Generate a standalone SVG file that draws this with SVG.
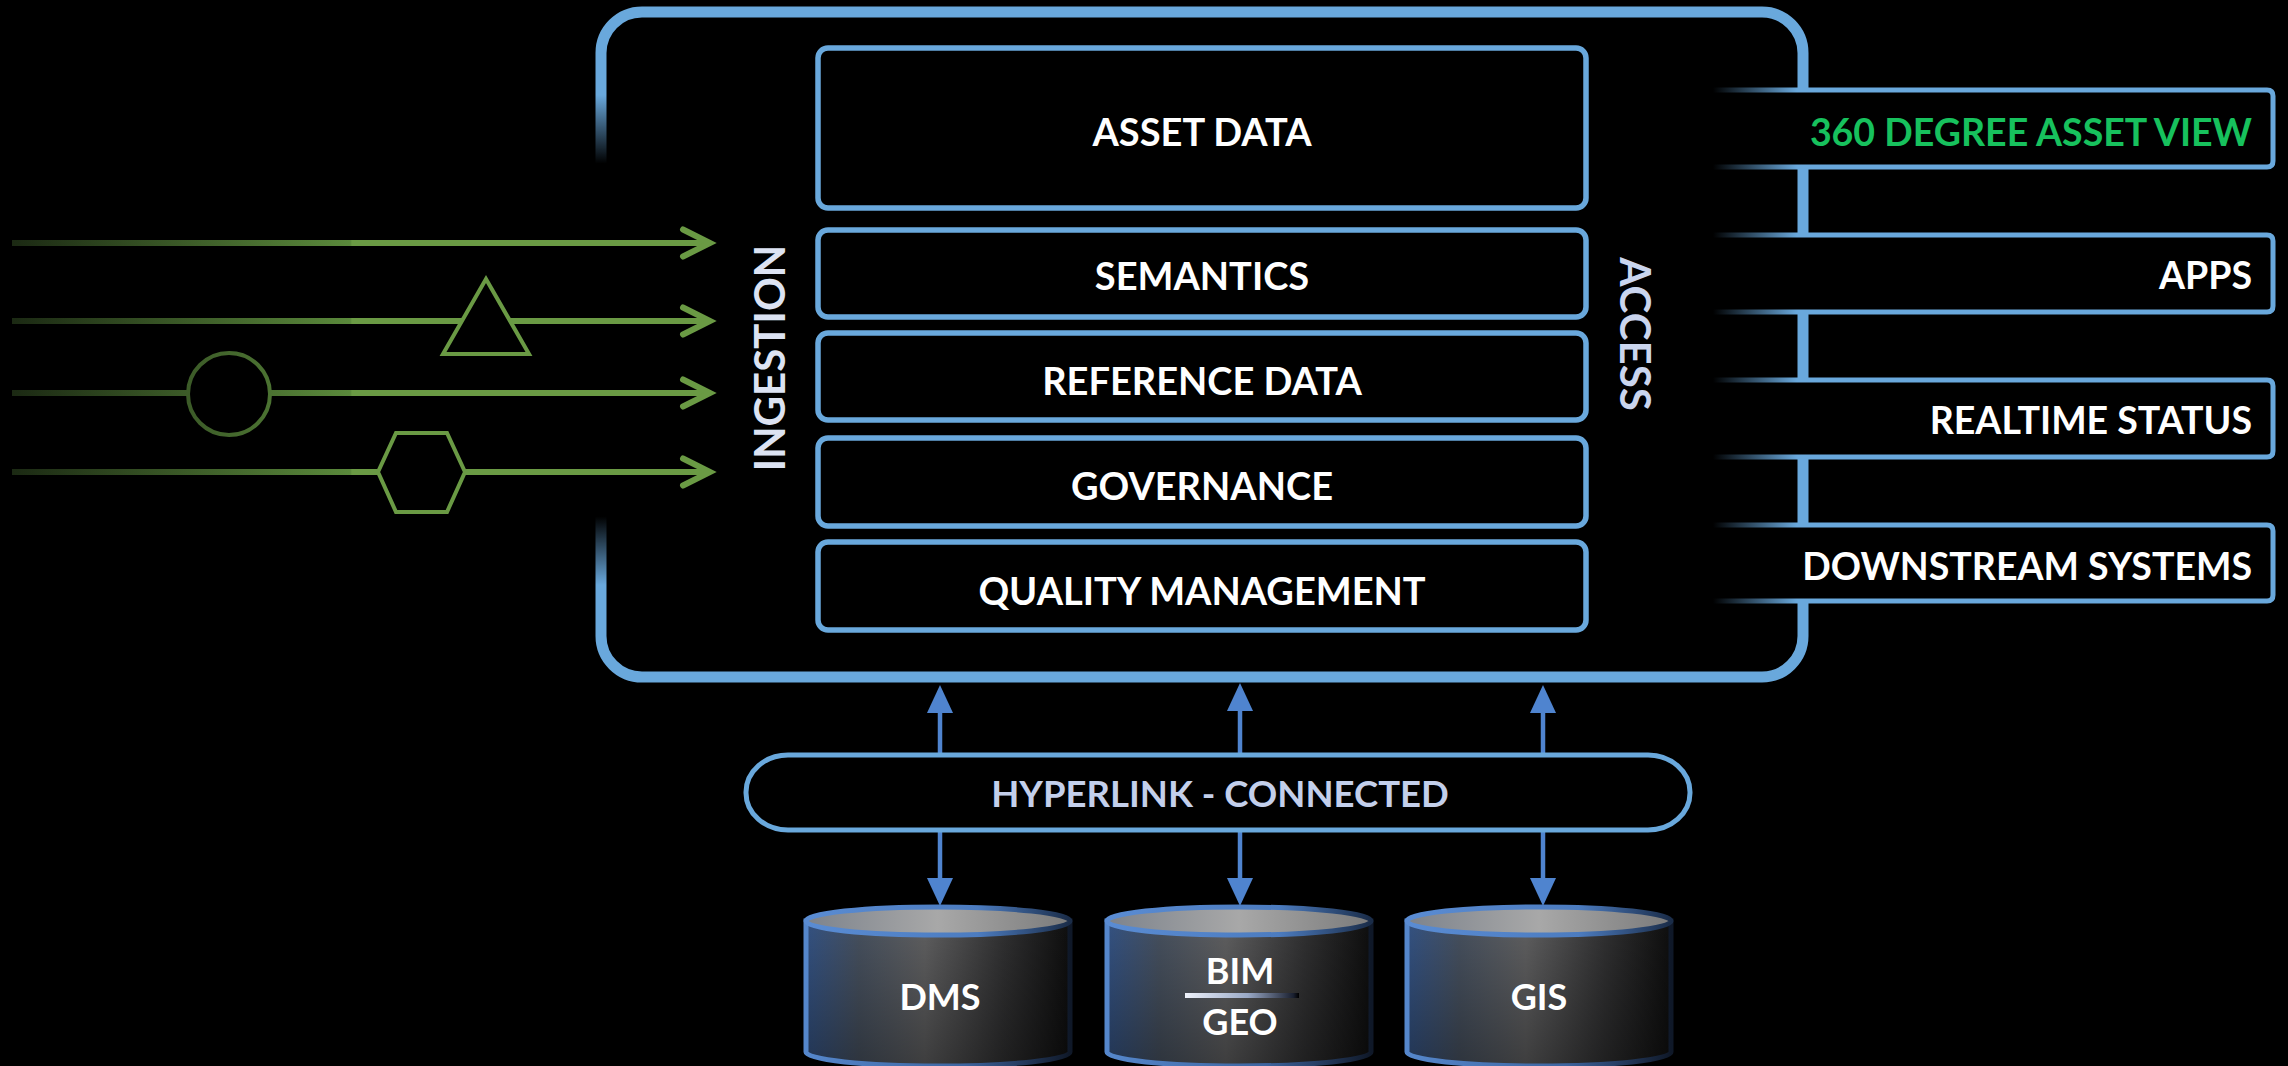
<svg xmlns="http://www.w3.org/2000/svg" width="2288" height="1066" viewBox="0 0 2288 1066">
  <style>
    .lbl { font-family: Lato, "Open Sans", "Liberation Sans", sans-serif; font-weight: 700; }
    .box-label { font-size: 38px; fill: #ffffff; text-anchor: middle; }
    .out-label { font-size: 37.5px; fill: #ffffff; text-anchor: end; }
    .layer { fill: #000; stroke: #69a8dc; stroke-width: 5.5; }
    .rb-fill { fill: #000; }
    .rb-edge { fill: none; stroke: url(#rbGrad); stroke-width: 5; }
    .flow { stroke: url(#flowGrad); stroke-width: 6; fill: none; marker-end: url(#chevron); }
    .flow-shape { fill: #000; stroke: url(#flowGrad); stroke-width: 4; }
    .link { stroke: #4f84cf; stroke-width: 4.5; fill: none; marker-end: url(#blueHead); }
    .cyl-label { font-size: 36px; fill: #ffffff; text-anchor: middle; }
  </style>
  <defs>
    <!-- green ingestion stream: dark on the left, brightening to the right -->
    <linearGradient id="flowGrad" gradientUnits="userSpaceOnUse" x1="12" y1="0" x2="352" y2="0">
      <stop offset="0" stop-color="#1b2913"/>
      <stop offset="0.995" stop-color="#5a893b"/>
      <stop offset="1" stop-color="#6a9a44"/>
    </linearGradient>
    <!-- output boxes: top/bottom edges fade in from the left -->
    <linearGradient id="rbGrad" gradientUnits="userSpaceOnUse" x1="1713" y1="0" x2="1797" y2="0">
      <stop offset="0" stop-color="#69a8dc" stop-opacity="0"/>
      <stop offset="1" stop-color="#69a8dc" stop-opacity="1"/>
    </linearGradient>
    <!-- fade on the left side of the platform frame -->
    <linearGradient id="leftFadeGrad" x1="0" y1="0" x2="0" y2="1">
      <stop offset="0" stop-color="#fff"/>
      <stop offset="0.14" stop-color="#000"/>
      <stop offset="0.86" stop-color="#000"/>
      <stop offset="1" stop-color="#fff"/>
    </linearGradient>
    <mask id="frameMask" maskUnits="userSpaceOnUse" x="0" y="0" width="2288" height="1066">
      <rect x="0" y="0" width="2288" height="1066" fill="#fff"/>
      <rect x="585" y="95" width="35" height="490" fill="url(#leftFadeGrad)"/>
    </mask>
    <!-- database cylinder shading -->
    <linearGradient id="cylBody" x1="0" y1="0" x2="1" y2="0">
      <stop offset="0" stop-color="#335283"/>
      <stop offset="0.2" stop-color="#46505e"/>
      <stop offset="0.45" stop-color="#5f5f60"/>
      <stop offset="0.75" stop-color="#303031"/>
      <stop offset="1" stop-color="#0e0e0e"/>
    </linearGradient>
    <linearGradient id="cylShade" x1="0" y1="0" x2="0" y2="1">
      <stop offset="0" stop-color="#000" stop-opacity="0"/>
      <stop offset="1" stop-color="#000" stop-opacity="0.35"/>
    </linearGradient>
    <linearGradient id="cylTop" x1="0" y1="0" x2="1" y2="0">
      <stop offset="0" stop-color="#7d838c"/>
      <stop offset="0.5" stop-color="#a8a8a8"/>
      <stop offset="1" stop-color="#7b7b7b"/>
    </linearGradient>
    <linearGradient id="cylRim" x1="0" y1="0" x2="1" y2="0">
      <stop offset="0" stop-color="#5a8cd3"/>
      <stop offset="0.65" stop-color="#4c7cc0"/>
      <stop offset="1" stop-color="#1a2c48"/>
    </linearGradient>
    <linearGradient id="cylSide" x1="0" y1="0" x2="1" y2="0">
      <stop offset="0" stop-color="#5587cc"/>
      <stop offset="0.6" stop-color="#3e65a0"/>
      <stop offset="1" stop-color="#0f1828"/>
    </linearGradient>
    <linearGradient id="divider" x1="0" y1="0" x2="1" y2="0">
      <stop offset="0" stop-color="#eef2fb"/>
      <stop offset="0.55" stop-color="#9aa9c6"/>
      <stop offset="0.95" stop-color="#1a2030"/>
      <stop offset="1" stop-color="#000"/>
    </linearGradient>
    <g id="cylinder">
      <path d="M-132,921 V1052 A132,14 0 0 0 132,1052 V921 Z" fill="url(#cylBody)"/>
      <path d="M-132,921 V1052 A132,14 0 0 0 132,1052 V921 Z" fill="url(#cylShade)" stroke="url(#cylSide)" stroke-width="5"/>
      <ellipse cx="0" cy="921" rx="132" ry="14" fill="url(#cylTop)" stroke="url(#cylRim)" stroke-width="5"/>
    </g>
    <marker id="chevron" viewBox="0 0 34 34" markerUnits="userSpaceOnUse" markerWidth="34" markerHeight="34" refX="25" refY="17" orient="auto" overflow="visible">
      <path d="M4,3.5 L31,17 L4,30.5" fill="none" stroke="#6a9a44" stroke-width="6" stroke-linecap="round" stroke-linejoin="miter"/>
    </marker>
    <marker id="blueHead" viewBox="0 0 28 26" markerUnits="userSpaceOnUse" markerWidth="28" markerHeight="26" refX="0" refY="13" orient="auto">
      <path d="M0,0 L28,13 L0,26 Z" fill="#4f84cf"/>
    </marker>
  </defs>

  <rect x="0" y="0" width="2288" height="1066" fill="#000"/>

  <!-- platform frame -->
  <g id="platform">
    <rect x="601" y="12" width="1202" height="665" rx="41" ry="41" fill="none" stroke="#69a8dc" stroke-width="11" mask="url(#frameMask)"/>
  </g>

  <!-- stacked layers -->
  <g id="asset-data">
    <rect class="layer" x="818" y="48" width="768" height="160" rx="10"/>
    <text class="lbl box-label" x="1202" y="146">ASSET DATA</text>
  </g>
  <g id="semantics">
    <rect class="layer" x="818" y="230" width="768" height="87" rx="10"/>
    <text class="lbl box-label" x="1202" y="290">SEMANTICS</text>
  </g>
  <g id="reference-data">
    <rect class="layer" x="818" y="333" width="768" height="87" rx="10"/>
    <text class="lbl box-label" x="1202" y="395">REFERENCE DATA</text>
  </g>
  <g id="governance">
    <rect class="layer" x="818" y="438" width="768" height="88" rx="10"/>
    <text class="lbl box-label" x="1202" y="500">GOVERNANCE</text>
  </g>
  <g id="quality-management">
    <rect class="layer" x="818" y="542" width="768" height="88" rx="10"/>
    <text class="lbl box-label" x="1202" y="605">QUALITY MANAGEMENT</text>
  </g>

  <!-- side captions -->
  <g id="ingestion">
    <text class="lbl" transform="translate(785,358) rotate(-90)" text-anchor="middle" font-size="42" fill="#dce3f3">INGESTION</text>
  </g>
  <g id="access">
    <text class="lbl" transform="translate(1620,334) rotate(90)" text-anchor="middle" font-size="42" font-weight="600" fill="#cad5ee">ACCESS</text>
  </g>

  <!-- output channels -->
  <g id="asset-view-360">
    <rect class="rb-fill" x="1713" y="90" width="560" height="77"/>
    <path class="rb-edge" d="M1713,90 H2267 Q2273,90 2273,96 V161 Q2273,167 2267,167 H1713"/>
    <text class="lbl out-label" x="2252" y="146" style="fill:#17c15d">360 DEGREE ASSET VIEW</text>
  </g>
  <g id="apps">
    <rect class="rb-fill" x="1713" y="235" width="560" height="77"/>
    <path class="rb-edge" d="M1713,235 H2267 Q2273,235 2273,241 V306 Q2273,312 2267,312 H1713"/>
    <text class="lbl out-label" x="2252" y="289">APPS</text>
  </g>
  <g id="realtime-status">
    <rect class="rb-fill" x="1713" y="380" width="560" height="77"/>
    <path class="rb-edge" d="M1713,380 H2267 Q2273,380 2273,386 V451 Q2273,457 2267,457 H1713"/>
    <text class="lbl out-label" x="2252" y="434">REALTIME STATUS</text>
  </g>
  <g id="downstream-systems">
    <rect class="rb-fill" x="1713" y="525" width="560" height="76"/>
    <path class="rb-edge" d="M1713,525 H2267 Q2273,525 2273,531 V595 Q2273,601 2267,601 H1713"/>
    <text class="lbl out-label" x="2252" y="580">DOWNSTREAM SYSTEMS</text>
  </g>

  <!-- incoming data streams -->
  <g id="streams">
    <line class="flow" x1="12" y1="243" x2="704" y2="243"/>
    <line class="flow" x1="12" y1="321" x2="704" y2="321"/>
    <line class="flow" x1="12" y1="393" x2="704" y2="393"/>
    <line class="flow" x1="12" y1="472" x2="704" y2="472"/>
    <polygon id="stream-triangle" class="flow-shape" points="486,279 443,354 529,354"/>
    <circle id="stream-circle" class="flow-shape" cx="229" cy="394" r="41"/>
    <polygon id="stream-hexagon" class="flow-shape" points="378,472 396,433 447,433 465,472 447,512 396,512"/>
  </g>

  <!-- link connectors -->
  <g id="connectors">
    <line class="link" x1="940" y1="753" x2="940" y2="713"/>
    <line class="link" x1="1240" y1="753" x2="1240" y2="711"/>
    <line class="link" x1="1543" y1="753" x2="1543" y2="713"/>
    <line class="link" x1="940" y1="831" x2="940" y2="878"/>
    <line class="link" x1="1240" y1="831" x2="1240" y2="878"/>
    <line class="link" x1="1543" y1="831" x2="1543" y2="878"/>
  </g>

  <g id="hyperlink">
    <rect x="746" y="755" width="944" height="75" rx="42" ry="37" fill="#000" stroke="#69a8dc" stroke-width="5"/>
    <text class="lbl" x="1220" y="807" text-anchor="middle" font-size="36.5" fill="#c3cfeb">HYPERLINK - CONNECTED</text>
  </g>

  <!-- source stores -->
  <g id="dms">
    <use href="#cylinder" transform="translate(938,0)"/>
    <text class="lbl cyl-label" x="940" y="1010">DMS</text>
  </g>
  <g id="bim-geo">
    <use href="#cylinder" transform="translate(1239,0)"/>
    <text class="lbl cyl-label" x="1240" y="984">BIM</text>
    <rect x="1185" y="993" width="114" height="5" fill="url(#divider)"/>
    <text class="lbl cyl-label" x="1240" y="1035">GEO</text>
  </g>
  <g id="gis">
    <use href="#cylinder" transform="translate(1539,0)"/>
    <text class="lbl cyl-label" x="1539" y="1010">GIS</text>
  </g>
</svg>
